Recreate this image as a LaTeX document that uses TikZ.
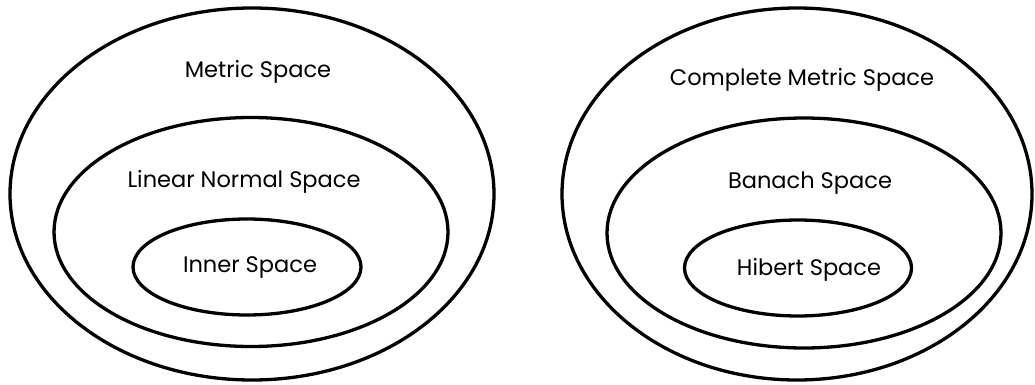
\documentclass[tikz,border=0pt]{standalone}
\usepackage{fontspec}
\setmainfont{Poppins}
\usetikzlibrary{shapes.geometric}
\tikzset{
  region/.style n args={2}{draw=black,ellipse,line width=3.3pt,inner sep=0pt,minimum width=#1pt,minimum height=#2pt},
  tag/.style={font=\fontsize{22.5}{27}\selectfont,text=black,inner sep=0pt}
}
\begin{document}
\begin{tikzpicture}[x=1pt,y=-1pt]
  \useasboundingbox (0,0) rectangle (1035,385);
  % left family
  \node[region={484}{372}] (metric) at (252,194) {};
  \node[region={394}{229}] (normed) at (251,232) {};
  \node[region={228}{96}] (inner) at (247,267) {};
  \node[tag] (metricT) at (258,72) {Metric Space};
  \node[tag] (normedT) at (244,182) {Linear Normal Space};
  \node[tag] (innerT) at (250,267) {Inner Space};

  % right family
  \node[region={470}{372}] (complete) at (797,194) {};
  \node[region={394}{230}] (banach) at (804,233) {};
  \node[region={227}{96}] (hilbert) at (798,268) {};
  \node[tag] (completeT) at (802,80) {Complete Metric Space};
  \node[tag] (banachT) at (810,183) {Banach Space};
  \node[tag] (hilbertT) at (809,270) {Hibert Space};
\end{tikzpicture}
\end{document}
